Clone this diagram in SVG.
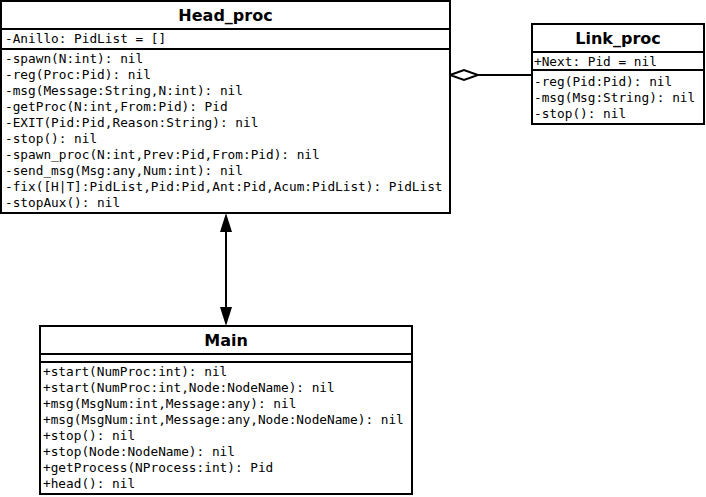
<svg xmlns="http://www.w3.org/2000/svg" width="706" height="497" viewBox="0 0 706 497">
<style>
.box{fill:#fff;stroke:#000;stroke-width:2}
.div{stroke:#000;stroke-width:2}
.title{font-family:"DejaVu Sans",sans-serif;font-weight:bold;font-size:16px;text-anchor:middle;fill:#000}
.mem{font-family:"DejaVu Sans Mono",monospace;font-size:12.75px;fill:#000}
.conn{stroke:#000;stroke-width:2;fill:none}
</style>
<defs>
<marker id="arr" viewBox="0 0 20 12" refX="20" refY="6" markerWidth="20" markerHeight="12" markerUnits="userSpaceOnUse" orient="auto">
<path d="M0,0 L20,6 L0,12 Z" fill="#000"/>
</marker>
</defs>
<rect width="706" height="497" fill="#fff"/>
<g id="connectors">
<line class="conn" x1="226" y1="232" x2="226" y2="307"/>
<path d="M226,213 L232,232 L220,232 Z" fill="#000"/>
<path d="M226,326 L232,307 L220,307 Z" fill="#000"/>
<line class="conn" x1="478" y1="75" x2="532" y2="75"/>
<path d="M450,75 L464,70 L478,75 L464,80 Z" fill="#fff" stroke="#000" stroke-width="2"/>
</g>
<g id="Head_proc">
<rect class="box" x="1" y="1" width="449" height="212"/>
<line class="div" x1="1" y1="29" x2="450" y2="29"/>
<line class="div" x1="1" y1="49" x2="450" y2="49"/>
<text class="title" x="225.5" y="21">Head_proc</text>
<text class="mem" x="5" y="43">-Anillo: PidList = []</text>
<text class="mem" x="5" y="63">-spawn(N:int): nil</text>
<text class="mem" x="5" y="79">-reg(Proc:Pid): nil</text>
<text class="mem" x="5" y="95">-msg(Message:String,N:int): nil</text>
<text class="mem" x="5" y="111">-getProc(N:int,From:Pid): Pid</text>
<text class="mem" x="5" y="127">-EXIT(Pid:Pid,Reason:String): nil</text>
<text class="mem" x="5" y="143">-stop(): nil</text>
<text class="mem" x="5" y="159">-spawn_proc(N:int,Prev:Pid,From:Pid): nil</text>
<text class="mem" x="5" y="175">-send_msg(Msg:any,Num:int): nil</text>
<text class="mem" x="5" y="191">-fix([H|T]:PidList,Pid:Pid,Ant:Pid,Acum:PidList): PidList</text>
<text class="mem" x="5" y="207">-stopAux(): nil</text>
</g>
<g id="Link_proc">
<rect class="box" x="532" y="24" width="172" height="100"/>
<line class="div" x1="532" y1="52" x2="704" y2="52"/>
<line class="div" x1="532" y1="70" x2="704" y2="70"/>
<text class="title" x="618" y="43.5">Link_proc</text>
<text class="mem" x="534" y="66">+Next: Pid = nil</text>
<text class="mem" x="534" y="86">-reg(Pid:Pid): nil</text>
<text class="mem" x="534" y="102">-msg(Msg:String): nil</text>
<text class="mem" x="534" y="118">-stop(): nil</text>
</g>
<g id="Main">
<rect class="box" x="40" y="326" width="372" height="168"/>
<line class="div" x1="40" y1="354" x2="412" y2="354"/>
<line class="div" x1="40" y1="362" x2="412" y2="362"/>
<text class="title" x="226" y="345.5">Main</text>
<text class="mem" x="43" y="376">+start(NumProc:int): nil</text>
<text class="mem" x="43" y="392">+start(NumProc:int,Node:NodeName): nil</text>
<text class="mem" x="43" y="408">+msg(MsgNum:int,Message:any): nil</text>
<text class="mem" x="43" y="424">+msg(MsgNum:int,Message:any,Node:NodeName): nil</text>
<text class="mem" x="43" y="440">+stop(): nil</text>
<text class="mem" x="43" y="456">+stop(Node:NodeName): nil</text>
<text class="mem" x="43" y="472">+getProcess(NProcess:int): Pid</text>
<text class="mem" x="43" y="488">+head(): nil</text>
</g>
</svg>
